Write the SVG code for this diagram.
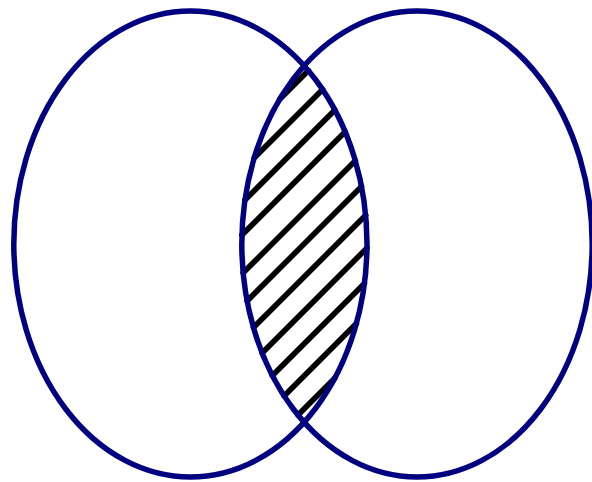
<svg xmlns="http://www.w3.org/2000/svg" width="592" height="482" viewBox="0 0 592 482">
<style>
.set{fill:none;stroke:#000080;stroke-width:5.5}
.hatch line{stroke:#000;stroke-width:5.6;stroke-linecap:round}
</style>
<rect width="592" height="482" fill="#fff"/>
<g id="hatching" class="hatch">
<line x1="279.7" y1="99.3" x2="308.4" y2="70.6"/>
<line x1="254.3" y1="157.7" x2="322.6" y2="89.4"/>
<line x1="245" y1="200" x2="334.9" y2="110.1"/>
<line x1="241.9" y1="235.1" x2="345.2" y2="131.8"/>
<line x1="243.2" y1="272.8" x2="355.3" y2="160.7"/>
<line x1="247.1" y1="300.9" x2="361.5" y2="186.5"/>
<line x1="253.5" y1="327.5" x2="365.7" y2="215.3"/>
<line x1="262.1" y1="352.9" x2="367" y2="248"/>
<line x1="272.4" y1="375.6" x2="364.4" y2="283.6"/>
<line x1="284.1" y1="395.9" x2="356.4" y2="323.6"/>
<line x1="298" y1="415" x2="334.7" y2="378.3"/>
</g>
<g id="setA"><ellipse class="set" cx="190.4" cy="244" rx="176.6" ry="233"/></g>
<g id="setB"><ellipse class="set" cx="417" cy="244" rx="175.2" ry="233"/></g>
</svg>
